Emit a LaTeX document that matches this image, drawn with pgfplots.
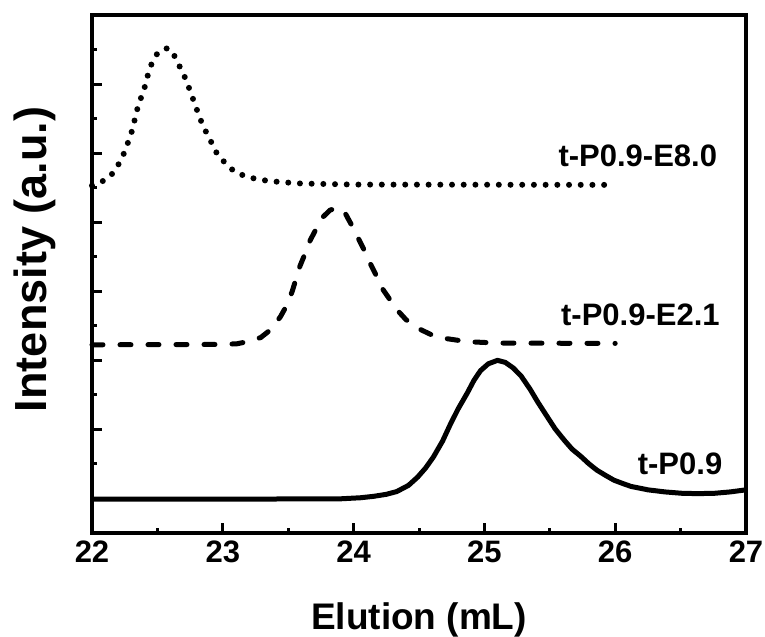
\documentclass[border=0pt]{standalone}
\usepackage{pgfplots}
\pgfplotsset{compat=1.18}
\usepackage{fontspec}
\setmainfont{Liberation Sans}
\begin{document}
\begin{tikzpicture}
\useasboundingbox (-92bp,-104bp) rectangle (673bp,533bp);
\begin{axis}[
  scale only axis,
  width=654bp, height=518bp,
  xmin=22, xmax=27, ymin=0, ymax=15,
  axis line style={line width=3.5bp},
  xtick={22,23,24,25,26,27},
  minor xtick={22.5,23.5,24.5,25.5,26.5},
  ytick={1,3,5,7,9,11,13},
  minor ytick={2,4,6,8,10,12,14},
  yticklabels={},
  xtick pos=bottom, ytick pos=left,
  tick align=inside,
  major tick length=10bp, minor tick length=5bp,
  every tick/.style={line width=3bp, black},
  /pgf/number format/assume math mode=true,
  xticklabel style={font=\fontsize{31bp}{31bp}\selectfont\bfseries, yshift=-4bp},
  xlabel={Elution (mL)},
  ylabel={Intensity (a.u.)},
  xlabel style={font=\fontsize{37bp}{37bp}\selectfont\bfseries, at={(axis description cs:0.5,-0.186)}, anchor=base},
  ylabel style={font=\fontsize{45bp}{45bp}\selectfont\bfseries, at={(axis description cs:-0.0703,0.528)}, anchor=base, rotate=0},
  clip=false,
]
% t-P0.9 (solid)
\addplot[black, line width=5bp, line join=round] coordinates {
(22.0,0.98) (23.0,0.98) (23.9,0.99) (24.05,1.02) (24.15,1.06) (24.25,1.12)
(24.33,1.20) (24.42,1.38) (24.49,1.62) (24.55,1.88) (24.61,2.20) (24.68,2.66)
(24.74,3.15) (24.80,3.60) (24.87,4.06) (24.92,4.42) (24.97,4.70) (25.03,4.90)
(25.10,5.00) (25.16,4.94) (25.22,4.78) (25.28,4.55) (25.35,4.16) (25.41,3.78)
(25.48,3.37) (25.54,3.02) (25.61,2.69) (25.67,2.43) (25.74,2.21) (25.80,2.00)
(25.86,1.82) (25.93,1.66) (25.99,1.53) (26.06,1.43) (26.12,1.35) (26.25,1.25)
(26.38,1.19) (26.51,1.15) (26.63,1.14) (26.76,1.15) (26.88,1.19) (27.0,1.25)
};
% t-P0.9-E2.1 (dashed)
\addplot[black, line width=5bp, line cap=round, line join=round, dash pattern=on 11bp off 17bp] coordinates {
(22.0,5.45) (23.0,5.46) (23.11,5.48) (23.2,5.55) (23.29,5.66) (23.37,5.90)
(23.44,6.26) (23.49,6.60) (23.53,6.99) (23.59,7.73) (23.63,8.10) (23.67,8.49)
(23.72,8.85) (23.76,9.13) (23.82,9.35) (23.88,9.42) (23.93,9.30) (23.98,8.95)
(24.03,8.58) (24.08,8.20) (24.12,7.86) (24.17,7.48) (24.21,7.13) (24.27,6.80)
(24.32,6.51) (24.40,6.18) (24.49,5.93) (24.59,5.75) (24.69,5.64) (24.87,5.54)
(25.1,5.50) (26.0,5.49)
};
% t-P0.9-E8.0 (dotted)
\addplot[black, line width=6bp, line cap=round, line join=round, dash pattern=on 0bp off 11.7bp] coordinates {
(22.0,10.06) (22.10,10.22) (22.16,10.42) (22.21,10.72) (22.25,11.04) (22.28,11.36)
(22.31,11.69) (22.33,12.03) (22.35,12.33) (22.38,12.66) (22.41,12.99) (22.43,13.31)
(22.46,13.63) (22.50,13.89) (22.54,14.00) (22.58,14.04) (22.61,13.95) (22.64,13.75)
(22.68,13.43) (22.72,13.12) (22.75,12.80) (22.78,12.49) (22.81,12.17) (22.84,11.87)
(22.88,11.55) (22.92,11.26) (22.96,10.95) (23.02,10.71) (23.09,10.46) (23.18,10.32)
(23.27,10.24) (23.36,10.19) (23.45,10.16) (23.6,10.12) (24.0,10.09) (26.0,10.08)
};
\node[anchor=base east, font=\fontsize{31bp}{31bp}\selectfont\bfseries, inner sep=0pt] at (axis cs:26.78,10.6) {t-P0.9-E8.0};
\node[anchor=base east, font=\fontsize{31bp}{31bp}\selectfont\bfseries, inner sep=0pt] at (axis cs:26.80,6.02) {t-P0.9-E2.1};
\node[anchor=base east, font=\fontsize{31bp}{31bp}\selectfont\bfseries, inner sep=0pt] at (axis cs:26.82,1.68) {t-P0.9};
\end{axis}
\end{tikzpicture}
\end{document}
